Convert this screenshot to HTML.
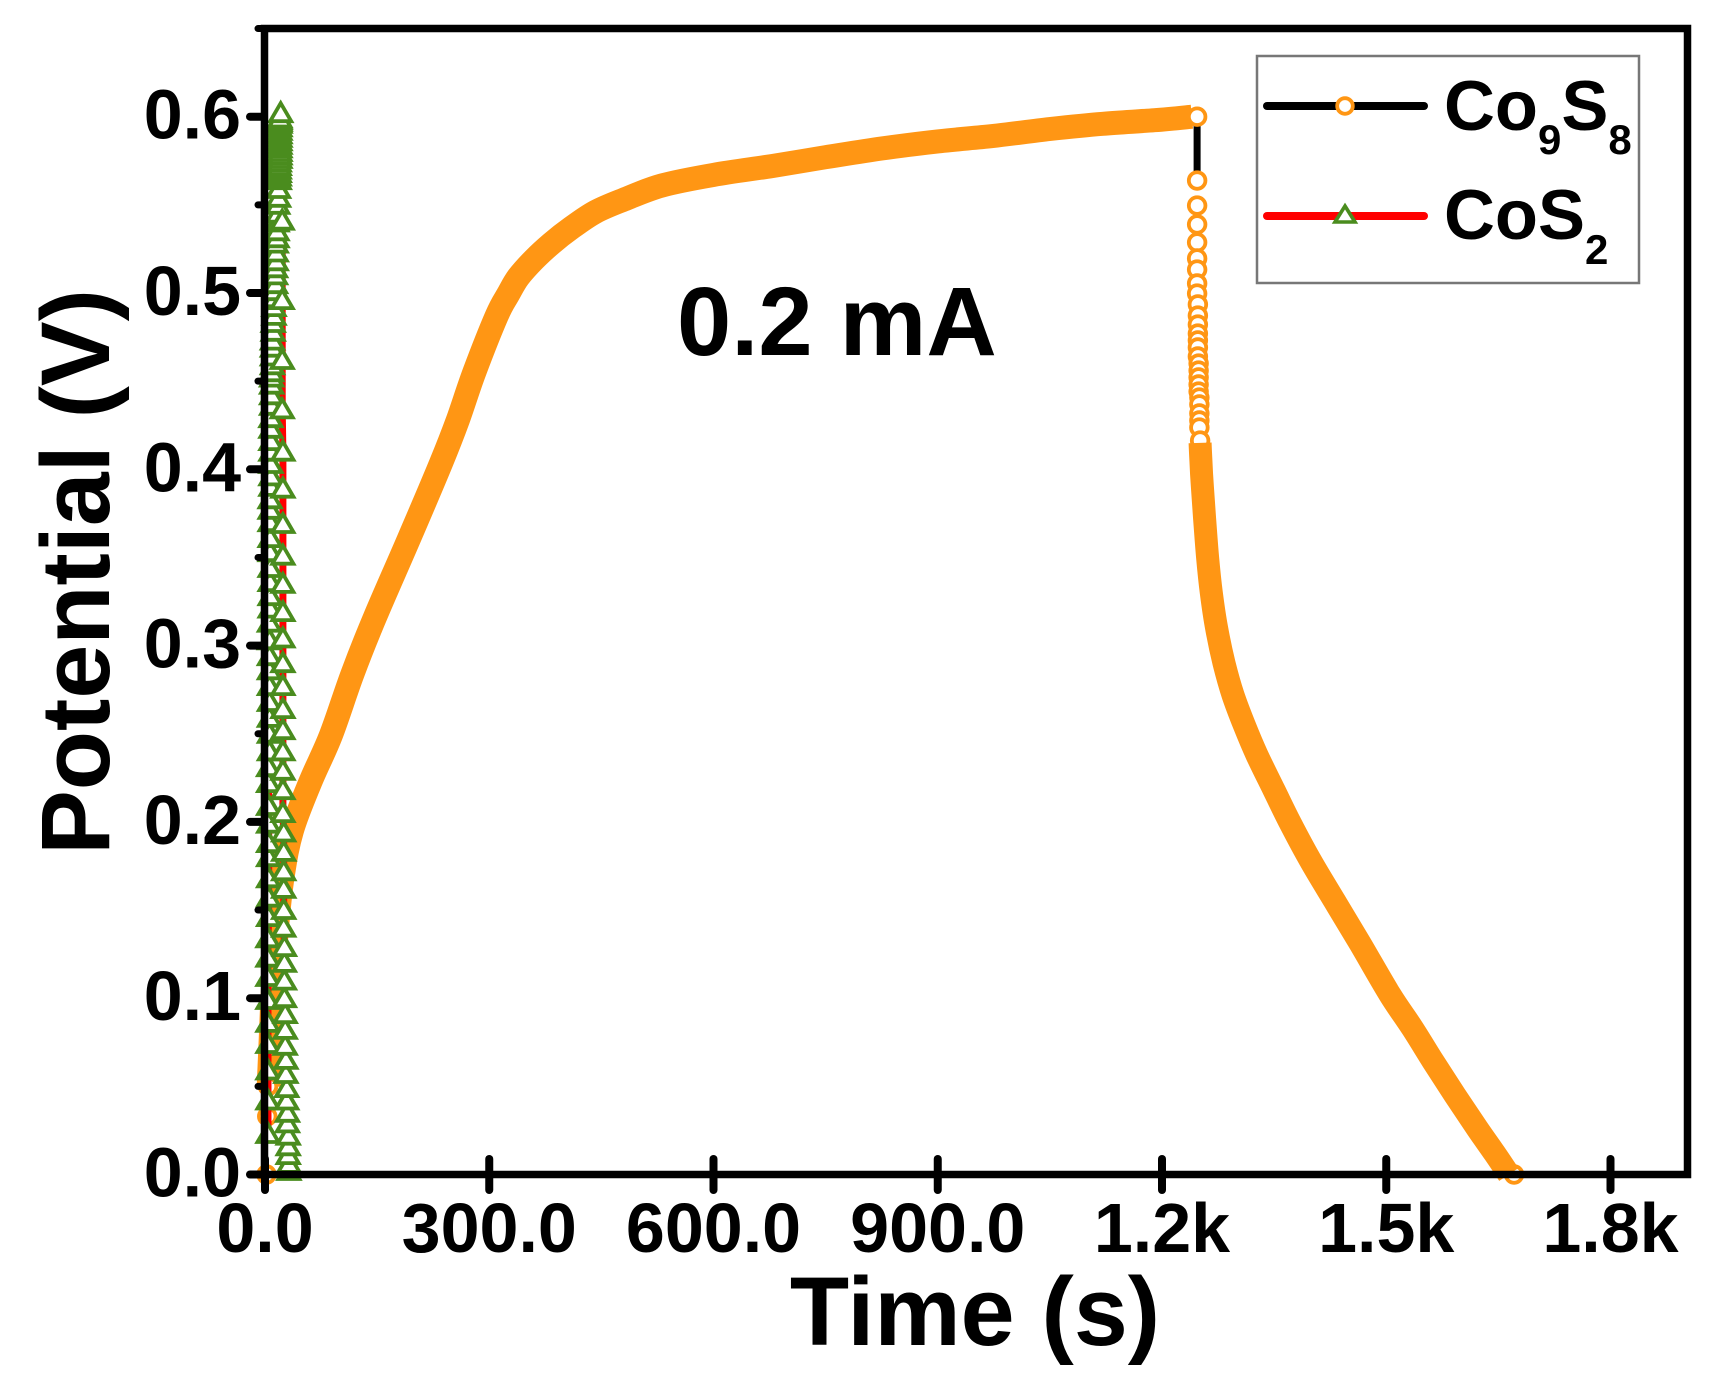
<!DOCTYPE html>
<html lang="en">
<head>
<meta charset="utf-8">
<title>Potential vs Time at 0.2 mA</title>
<style>
html,body{margin:0;padding:0;background:#fff;width:1732px;height:1394px;overflow:hidden}
svg{display:block;font-family:"Liberation Sans",Arial,sans-serif;font-weight:bold}
</style>
</head>
<body>
<svg id="chart" width="1732" height="1394" viewBox="0 0 1732 1394" xmlns="http://www.w3.org/2000/svg">
<rect width="1732" height="1394" fill="#fff"/>
<g id="series"></g>
<g id="axes"></g>
<text x="975" y="1345" font-size="97" text-anchor="middle">Time (s)</text>
<text transform="translate(109 572) rotate(-90)" font-size="97" text-anchor="middle">Potential (V)</text>
<text x="677" y="355" font-size="97.5">0.2 mA</text>
<g>
<rect x="1257" y="56" width="382" height="227" fill="#fff" stroke="#777" stroke-width="2.5"/>
<line x1="1267" x2="1424" y1="106" y2="106" stroke="#000" stroke-width="8" stroke-linecap="round"/>
<circle cx="1345" cy="106" r="7.8" fill="#fff" stroke="#ff9614" stroke-width="3.8"/>
<text x="1444" y="130" font-size="70.5">Co<tspan font-size="42" dy="24">9</tspan><tspan dy="-24">S</tspan><tspan font-size="42" dy="24">8</tspan></text>
<line x1="1267" x2="1424" y1="216" y2="216" stroke="#ff0000" stroke-width="8" stroke-linecap="round"/>
<polygon points="1345,206 1355,222 1335,222" fill="#fff" stroke="#4a8c1e" stroke-width="3.6"/>
<text x="1444" y="239" font-size="70.5">CoS<tspan font-size="42" dy="25">2</tspan></text>
</g>
</svg>
<script>
// Axis tick values and labels
const xTickValues = [0, 300, 600, 900, 1200, 1500, 1800];
const xTickLabels = ["0.0", "300.0", "600.0", "900.0", "1.2k", "1.5k", "1.8k"];
const yTickValues = [0, 0.1, 0.2, 0.3, 0.4, 0.5, 0.6];
const yTickLabels = ["0.0", "0.1", "0.2", "0.3", "0.4", "0.5", "0.6"];
const yMinorValues = [0.05, 0.15, 0.25, 0.35, 0.45, 0.55, 0.65];

// Co9S8: charge branch (time s, potential V)
const co9s8ChargeT = [5, 7, 10, 16, 24, 36, 60, 88, 117, 147, 192, 236, 258, 280, 310, 325, 339, 360, 383, 410, 442, 480, 531, 600, 678, 750, 826, 900, 973, 1050, 1121, 1190, 1240];
const co9s8ChargeV = [0.05, 0.07, 0.10, 0.14, 0.17, 0.195, 0.222, 0.249, 0.284, 0.316, 0.36, 0.404, 0.428, 0.455, 0.487, 0.499, 0.509, 0.519, 0.528, 0.537, 0.546, 0.553, 0.561, 0.567, 0.572, 0.577, 0.582, 0.586, 0.589, 0.593, 0.596, 0.598, 0.6];
// Co9S8: initial sparse points
const co9s8StartT = [2, 3, 4];
const co9s8StartV = [0, 0.033, 0.05];
// Co9S8: voltage drop at the turning point
const co9s8DropT = [1247, 1247];
const co9s8DropV = [0.6, 0.5638];
// Co9S8: end-of-charge ring plus sparse rings at the top of the discharge
const co9s8RingT = [1247, 1247, 1247, 1247, 1247, 1247, 1247, 1247, 1247, 1248, 1248, 1248, 1248, 1248, 1248, 1248, 1249, 1249, 1249, 1249, 1249, 1250, 1250, 1250, 1250, 1250, 1251, 1671];
const co9s8RingV = [0.6, 0.5638, 0.5496, 0.5389, 0.5287, 0.5196, 0.5133, 0.5054, 0.4997, 0.4935, 0.4872, 0.4821, 0.477, 0.4731, 0.4691, 0.464, 0.46, 0.456, 0.4521, 0.4481, 0.4441, 0.4407, 0.4368, 0.4317, 0.4277, 0.4237, 0.4163, 0];
// Co9S8: dense discharge branch
const co9s8DischargeT = [1251, 1252, 1254, 1257, 1261, 1266, 1273, 1283, 1295, 1310, 1327, 1350, 1372, 1400, 1431, 1465, 1505, 1535, 1563, 1592, 1622, 1645, 1664];
const co9s8DischargeV = [0.415, 0.405, 0.39, 0.372, 0.35, 0.33, 0.31, 0.29, 0.272, 0.255, 0.238, 0.218, 0.199, 0.177, 0.155, 0.131, 0.102, 0.083, 0.064, 0.045, 0.026, 0.012, 0];

// CoS2: charge branch markers
const cos2ChargeV = [0.023, 0.042, 0.059, 0.074, 0.086, 0.099, 0.112, 0.123, 0.134, 0.146, 0.157, 0.168, 0.18, 0.188, 0.199, 0.209, 0.222, 0.231, 0.24, 0.25, 0.259, 0.268, 0.277, 0.286, 0.294, 0.303, 0.313, 0.321, 0.328, 0.336, 0.344, 0.353, 0.361, 0.37, 0.377, 0.383, 0.39, 0.396, 0.403, 0.41, 0.416, 0.423, 0.429, 0.436, 0.442, 0.448, 0.452, 0.455, 0.459, 0.464, 0.469, 0.473, 0.478, 0.483, 0.487, 0.492, 0.497, 0.501, 0.505, 0.51, 0.514, 0.518, 0.523, 0.528, 0.531, 0.535, 0.54, 0.545, 0.55, 0.554, 0.559, 0.564, 0.566, 0.568, 0.57, 0.572, 0.574, 0.576, 0.578, 0.58, 0.582, 0.584, 0.586, 0.588, 0.59, 0.592, 0.594, 0.596, 0.597, 0.598, 0.599];
const cos2ChargeT = [4, 4, 4, 4, 4, 4, 4, 4, 4, 5, 5, 5, 5, 5, 5, 5, 5, 5, 6, 6, 6, 6, 6, 6, 6, 6, 6, 7, 7, 7, 7, 7, 7, 7, 7, 7, 8, 8, 8, 8, 8, 8, 8, 9, 9, 9, 9, 9, 10, 10, 10, 10, 11, 11, 12, 12, 13, 13, 14, 14, 14, 15, 15, 15, 16, 16, 16, 17, 17, 18, 18, 19, 19, 19, 19, 19, 19, 20, 20, 20, 20, 20, 20, 20, 20, 20, 20, 20, 20, 20, 20];
// CoS2: discharge branch markers
const cos2DischargeV = [0.602, 0.541, 0.496, 0.462, 0.434, 0.41, 0.389, 0.369, 0.351, 0.335, 0.319, 0.304, 0.29, 0.277, 0.264, 0.252, 0.24, 0.229, 0.218, 0.205, 0.194, 0.183, 0.172, 0.162, 0.15, 0.14, 0.129, 0.12, 0.11, 0.1, 0.091, 0.082, 0.073, 0.065, 0.057, 0.049, 0.042, 0.035, 0.029, 0.022, 0.016, 0.011, 0.006, 0.002];
const cos2DischargeT = [21, 23, 23, 23, 23, 24, 24, 24, 24, 24, 24, 24, 24, 24, 24, 24, 24, 24, 24, 24, 25, 25, 25, 25, 25, 25, 26, 26, 26, 26, 27, 27, 27, 28, 28, 29, 29, 30, 30, 31, 31, 31, 32, 32];

const xAxis = t => 265 + t * 0.7475;
const yAxis = v => 1174.5 - v * 1763;

const NS = "http://www.w3.org/2000/svg";
const seriesG = document.getElementById("series");
const axesG = document.getElementById("axes");

function make(tag, parent, attrs) {
  const node = document.createElementNS(NS, tag);
  for (const k in attrs) node.setAttribute(k, attrs[k]);
  parent.appendChild(node);
  return node;
}
function pointsOf(ts, vs) {
  return ts.map((t, i) => xAxis(t).toFixed(1) + "," + yAxis(vs[i]).toFixed(1)).join(" ");
}
// Smooth curve through the data points (Catmull-Rom to Bezier)
function smoothPath(ts, vs) {
  const p = ts.map((t, i) => [xAxis(t), yAxis(vs[i])]);
  let d = "M" + p[0][0].toFixed(1) + " " + p[0][1].toFixed(1);
  for (let i = 0; i < p.length - 1; i++) {
    const a = p[Math.max(i - 1, 0)], b = p[i], c = p[i + 1], e = p[Math.min(i + 2, p.length - 1)];
    const c1x = b[0] + (c[0] - a[0]) / 6, c1y = b[1] + (c[1] - a[1]) / 6;
    const c2x = c[0] - (e[0] - b[0]) / 6, c2y = c[1] - (e[1] - b[1]) / 6;
    d += " C" + c1x.toFixed(1) + " " + c1y.toFixed(1) + " " + c2x.toFixed(1) + " " + c2y.toFixed(1) + " " + c[0].toFixed(1) + " " + c[1].toFixed(1);
  }
  return d;
}

const ORANGE = "#ff9614";
const GREEN = "#4a8c1e";

// Co9S8 series
const chargeBand = make("path", seriesG, {d: smoothPath(co9s8ChargeT, co9s8ChargeV), fill: "none", stroke: ORANGE, "stroke-width": 24, "stroke-linejoin": "round", "stroke-linecap": "butt"});



const dropLine = make("polyline", seriesG, {points: pointsOf(co9s8DropT, co9s8DropV), fill: "none", stroke: "#000", "stroke-width": 7});



co9s8RingT.forEach((t, i) => {
  const ring = make("circle", seriesG, {cx: xAxis(t), cy: yAxis(co9s8RingV[i]), r: 8.3, fill: "#fff", stroke: ORANGE, "stroke-width": 3.8});
  
  
});
co9s8StartT.forEach((t, i) => {
  const ring = make("circle", seriesG, {cx: xAxis(t), cy: yAxis(co9s8StartV[i]), r: 8.3, fill: "#fff", stroke: ORANGE, "stroke-width": 3.8});
  
  
});

const dischargeBand = make("path", seriesG, {d: smoothPath(co9s8DischargeT, co9s8DischargeV), fill: "none", stroke: ORANGE, "stroke-width": 23, "stroke-linejoin": "round", "stroke-linecap": "butt"});



// CoS2 series
const redCharge = make("polyline", seriesG, {points: pointsOf(cos2ChargeT, cos2ChargeV), fill: "none", stroke: "#ff0000", "stroke-width": 7, "stroke-linejoin": "round"});



const redDischarge = make("polyline", seriesG, {points: pointsOf(cos2DischargeT, cos2DischargeV), fill: "none", stroke: "#ff0000", "stroke-width": 7, "stroke-linejoin": "round"});



function triangle(t, v) {
  const x = xAxis(t), y = yAxis(v);
  return make("polygon", seriesG, {
    points: x.toFixed(1) + "," + (y - 10).toFixed(1) + " " + (x + 10.5).toFixed(1) + "," + (y + 8).toFixed(1) + " " + (x - 10.5).toFixed(1) + "," + (y + 8).toFixed(1),
    fill: "#fff", stroke: GREEN, "stroke-width": 3.8
  });
}
cos2ChargeT.forEach((t, i) => {
  const tri = triangle(t, cos2ChargeV[i]);
  
  
});
cos2DischargeT.slice().reverse().forEach((t, i) => {
  const tri = triangle(t, cos2DischargeV[cos2DischargeV.length - 1 - i]);
  
  
});

// Axes frame
const frame = make("rect", axesG, {x: xAxis(0) - 0.5, y: 28.5, width: 1423, height: 1146, fill: "none", stroke: "#000", "stroke-width": 7.5});



// X ticks and labels
xTickValues.forEach((t, i) => {
  const tick = make("line", axesG, {x1: xAxis(t), x2: xAxis(t), y1: 1159, y2: 1190, stroke: "#000", "stroke-width": 8, "stroke-linecap": "round"});
  
  
  const label = make("text", axesG, {x: xAxis(t), y: 1252, "font-size": 70, "text-anchor": "middle", fill: "#000"});
  label.textContent = xTickLabels[i];
  
  
});

// Y ticks and labels
yTickValues.forEach((v, i) => {
  const tick = make("line", axesG, {x1: 250, x2: 264, y1: yAxis(v), y2: yAxis(v), stroke: "#000", "stroke-width": 8, "stroke-linecap": "round"});
  
  
  const label = make("text", axesG, {x: 241, y: yAxis(v) + 22, "font-size": 70, "text-anchor": "end", fill: "#000"});
  label.textContent = yTickLabels[i];
  
  
});
yMinorValues.forEach(v => {
  const tick = make("line", axesG, {x1: 258, x2: 264, y1: yAxis(v), y2: yAxis(v), stroke: "#000", "stroke-width": 7, "stroke-linecap": "round"});
  
  
});
</script>
</body>
</html>
